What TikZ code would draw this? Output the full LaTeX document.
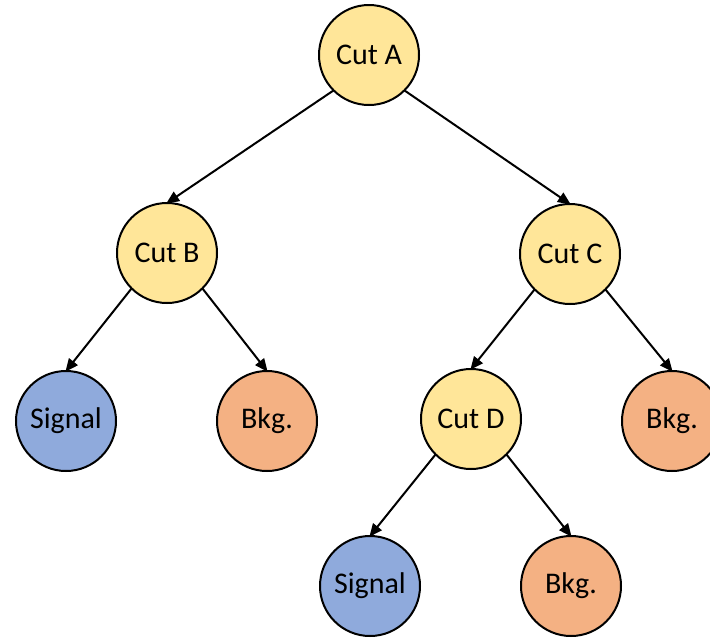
\documentclass[tikz,border=0pt]{standalone}
\usepackage{fontspec}
\setmainfont{Carlito}
\usetikzlibrary{arrows.meta}
\definecolor{cutyellow}{HTML}{FFE699}
\definecolor{sigblue}{HTML}{8FAADC}
\definecolor{bkgorange}{HTML}{F4B183}
\tikzset{
  nd/.style={circle, draw=black, line width=2pt, minimum size=100pt, inner sep=0pt, outer sep=0pt,
    font=\fontsize{30}{36}\selectfont},
  cutnode/.style={nd, fill=cutyellow},
  signode/.style={nd, fill=sigblue},
  bkgnode/.style={nd, fill=bkgorange},
  conn/.style={line width=2pt, -{Triangle[length=13pt,width=11pt]}, shorten >=-1pt}
}
\begin{document}
\begin{tikzpicture}[x=1pt,y=-1pt]
\useasboundingbox (0,0) rectangle (710,641);
\begin{scope}
\clip (0,0) rectangle (710,641);
\node[cutnode] (A) at (369,55) {Cut A};
\node[cutnode] (B) at (167,253) {Cut B};
\node[cutnode] (C) at (570,254) {Cut C};
\node[signode] (S1) at (66,421) {Signal};
\node[bkgnode] (K1) at (267,421) {Bkg.};
\node[cutnode] (D) at (471,419) {Cut D};
\node[bkgnode] (K2) at (672,421) {Bkg.};
\node[signode] (S2) at (370,586) {Signal};
\node[bkgnode] (K3) at (571,586) {Bkg.};
\draw[conn] (A.south west) -- (B.north);
\draw[conn] (A.south east) -- (C.north);
\draw[conn] (B.south west) -- (S1.north);
\draw[conn] (B.south east) -- (K1.north);
\draw[conn] (C.south west) -- (D.north);
\draw[conn] (C.south east) -- (K2.north);
\draw[conn] (D.south west) -- (S2.north);
\draw[conn] (D.south east) -- (K3.north);
\end{scope}
\end{tikzpicture}
\end{document}
